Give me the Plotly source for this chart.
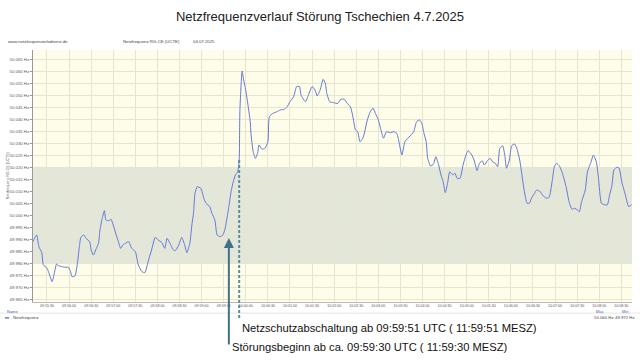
import plotly.graph_objects as go

DATE = "2025-07-04 "

times = [
    "09:55:11", "09:55:13", "09:55:16", "09:55:19", "09:55:23", "09:55:25", "09:55:30", "09:55:32",
    "09:55:37", "09:55:40", "09:55:43", "09:55:46", "09:55:50", "09:55:55", "09:55:59", "09:56:02",
    "09:56:04", "09:56:08", "09:56:11", "09:56:14", "09:56:16", "09:56:20", "09:56:23", "09:56:28",
    "09:56:30", "09:56:33", "09:56:37", "09:56:40", "09:56:42", "09:56:45", "09:56:48", "09:56:50",
    "09:56:54", "09:56:57", "09:57:00", "09:57:04", "09:57:07", "09:57:10", "09:57:13", "09:57:18",
    "09:57:21", "09:57:25", "09:57:30", "09:57:34", "09:57:39", "09:57:43", "09:57:48", "09:57:52",
    "09:57:57", "09:58:01", "09:58:06", "09:58:10", "09:58:13", "09:58:17", "09:58:21", "09:58:24",
    "09:58:29", "09:58:33", "09:58:37", "09:58:40", "09:58:44", "09:58:47", "09:58:49", "09:58:51",
    "09:58:54", "09:58:59", "09:59:03", "09:59:06", "09:59:11", "09:59:14", "09:59:18", "09:59:21",
    "09:59:25", "09:59:29", "09:59:32", "09:59:34", "09:59:37", "09:59:40", "09:59:43", "09:59:46",
    "09:59:49", "09:59:51", "09:59:52", "09:59:55", "09:59:57", "09:59:59", "10:00:02", "10:00:06",
    "10:00:07", "10:00:10", "10:00:13", "10:00:16", "10:00:18", "10:00:22", "10:00:26", "10:00:30",
    "10:00:32", "10:00:37", "10:00:42", "10:00:47", "10:00:52", "10:00:56", "10:01:00", "10:01:05",
    "10:01:09", "10:01:13", "10:01:15", "10:01:21", "10:01:25", "10:01:30", "10:01:34", "10:01:37",
    "10:01:41", "10:01:45", "10:01:48", "10:01:50", "10:01:54", "10:01:59", "10:02:05", "10:02:09",
    "10:02:14", "10:02:17", "10:02:22", "10:02:25", "10:02:29", "10:02:32", "10:02:35", "10:02:39",
    "10:02:42", "10:02:45", "10:02:49", "10:02:53", "10:02:56", "10:03:00", "10:03:03", "10:03:07",
    "10:03:11", "10:03:16", "10:03:21", "10:03:25", "10:03:27", "10:03:32", "10:03:36", "10:03:40",
    "10:03:43", "10:03:48", "10:03:52", "10:03:56", "10:03:59", "10:04:02", "10:04:05", "10:04:07",
    "10:04:11", "10:04:15", "10:04:18", "10:04:22", "10:04:25", "10:04:28", "10:04:31", "10:04:34",
    "10:04:37", "10:04:41", "10:04:44", "10:04:47", "10:04:51", "10:04:55", "10:04:59", "10:05:02",
    "10:05:07", "10:05:10", "10:05:14", "10:05:17", "10:05:21", "10:05:24", "10:05:28", "10:05:32",
    "10:05:35", "10:05:39", "10:05:42", "10:05:45", "10:05:49", "10:05:52", "10:05:54", "10:05:58",
    "10:06:01", "10:06:05", "10:06:08", "10:06:12", "10:06:15", "10:06:18", "10:06:22", "10:06:25",
    "10:06:28", "10:06:32", "10:06:35", "10:06:40", "10:06:43", "10:06:48", "10:06:52", "10:06:56",
    "10:06:59", "10:07:02", "10:07:06", "10:07:10", "10:07:15", "10:07:19", "10:07:23", "10:07:27",
    "10:07:30", "10:07:33", "10:07:36", "10:07:41", "10:07:44", "10:07:49", "10:07:52", "10:07:56",
    "10:07:59", "10:08:03", "10:08:08", "10:08:11", "10:08:14", "10:08:17", "10:08:20", "10:08:24",
    "10:08:27", "10:08:31", "10:08:35", "10:08:40", "10:08:44",
]

freq = [
    49.9889, 49.9903, 49.9917, 49.9868, 49.9842, 49.9792, 49.9779, 49.9764,
    49.9722, 49.9758, 49.9796, 49.9788, 49.9785, 49.9782, 49.9782, 49.9764,
    49.9743, 49.9746, 49.9792, 49.9868, 49.9907, 49.9917, 49.9903, 49.9889,
    49.9854, 49.9833, 49.9861, 49.9882, 49.9938, 49.9986, 50.0018, 49.9979,
    49.9976, 49.9982, 49.9958, 49.9917, 49.9889, 49.9861, 49.9875, 49.9885,
    49.9889, 49.9861, 49.9847, 49.9792, 49.9764, 49.9760, 49.9813, 49.9854,
    49.9907, 49.9896, 49.9885, 49.9861, 49.9903, 49.9882, 49.9857, 49.9851,
    49.9875, 49.9907, 49.9875, 49.9843, 49.9882, 49.9965, 50.0007, 50.0090,
    50.0118, 50.0111, 50.0070, 50.0049, 50.0035, 50.0007, 49.9979, 49.9917,
    49.9910, 49.9917, 49.9945, 49.9979, 50.0035, 50.0097, 50.0139, 50.0167,
    50.0180, 50.0229, 50.0438, 50.0600, 50.0563, 50.0535, 50.0479, 50.0389,
    50.0340, 50.0264, 50.0236, 50.0257, 50.0292, 50.0274, 50.0278, 50.0305,
    50.0410, 50.0424, 50.0430, 50.0438, 50.0440, 50.0451, 50.0472, 50.0493,
    50.0535, 50.0535, 50.0500, 50.0472, 50.0500, 50.0535, 50.0521, 50.0496,
    50.0521, 50.0565, 50.0549, 50.0507, 50.0472, 50.0468, 50.0465, 50.0482,
    50.0482, 50.0468, 50.0451, 50.0417, 50.0354, 50.0347, 50.0305, 50.0320,
    50.0354, 50.0396, 50.0430, 50.0445, 50.0424, 50.0396, 50.0361, 50.0320,
    50.0347, 50.0343, 50.0347, 50.0340, 50.0320, 50.0250, 50.0305, 50.0320,
    50.0329, 50.0347, 50.0389, 50.0396, 50.0382, 50.0340, 50.0305, 50.0236,
    50.0204, 50.0213, 50.0243, 50.0208, 50.0167, 50.0139, 50.0093, 50.0132,
    50.0180, 50.0167, 50.0174, 50.0153, 50.0153, 50.0208, 50.0250, 50.0268,
    50.0250, 50.0229, 50.0185, 50.0213, 50.0226, 50.0208, 50.0226, 50.0236,
    50.0222, 50.0215, 50.0201, 50.0278, 50.0288, 50.0243, 50.0195, 50.0229,
    50.0288, 50.0296, 50.0278, 50.0229, 50.0167, 50.0104, 50.0049, 50.0049,
    50.0070, 50.0090, 50.0104, 50.0097, 50.0083, 50.0070, 50.0074, 50.0139,
    50.0201, 50.0215, 50.0204, 50.0174, 50.0118, 50.0055, 50.0024, 50.0028,
    50.0021, 50.0014, 50.0055, 50.0104, 50.0180, 50.0222, 50.0250, 50.0222,
    50.0153, 50.0049, 50.0042, 50.0042, 50.0083, 50.0118, 50.0188, 50.0199,
    50.0195, 50.0132, 50.0090, 50.0035, 50.0042,
]

x_range = ["09:55:11", "10:08:44.5"]
y_range = [49.96375, 50.06875]
band = [49.98, 50.02]
tick0 = "09:55:30"

title = "Netzfrequenzverlauf Störung Tschechien 4.7.2025"
site = "www.netzfrequenzinfodienst.de"
series_name = "Netzfrequenz RG-CE (UCTE)"
date_label = "04.07.2025"
legend_name = "Netzfrequenz"
max_label = "50.060 Hz"
min_label = "49.972 Hz"
t_shutdown = "09:59:51"
t_start = "09:59:37"
txt_shutdown = "Netzschutzabschaltung ab 09:59:51 UTC ( 11:59:51 MESZ)"
txt_start = "Störungsbeginn ab ca. 09:59:30 UTC ( 11:59:30 MESZ)"

LINE = "#6479d8"
GRID = "#e7e5cf"
TICKC = "#555555"
FONT = "Liberation Sans"

fig = go.Figure()
fig.add_trace(go.Scatter(
    x=[DATE + t for t in times], y=freq, mode="lines",
    line=dict(color=LINE, width=1, shape="spline", smoothing=0.5),
    name=legend_name, showlegend=False, hoverinfo="skip",
))

shapes = [
    dict(type="rect", xref="paper", yref="y", x0=0, x1=1, y0=band[0], y1=band[1],
         fillcolor="#e2e7da", line=dict(width=0), layer="below"),
    dict(type="line", xref="paper", yref="paper", x0=-0.055, x1=1.0134, y0=-0.044, y1=-0.044,
         line=dict(color="#e4e4e4", width=1)),
    dict(type="line", xref="x", yref="paper", x0=DATE + t_shutdown, x1=DATE + t_shutdown,
         y0=0.5635, y1=-0.0635, line=dict(color="#5b8ca0", width=2, dash="3px,2px")),
    dict(type="line", xref="paper", yref="paper", x0=-0.047, x1=-0.040, y0=-0.063, y1=-0.063,
         line=dict(color=LINE, width=1.5)),
]

small = dict(family=FONT, size=4.3, color="#444444")
annotations = [
    dict(text=site, xref="paper", yref="paper", x=-0.0445, y=1.033, xanchor="left", yanchor="middle",
         showarrow=False, font=small),
    dict(text=series_name, xref="paper", yref="paper", x=0.1465, y=1.033, xanchor="left", yanchor="middle",
         showarrow=False, font=small),
    dict(text=date_label, xref="paper", yref="paper", x=0.263, y=1.033, xanchor="left", yanchor="middle",
         showarrow=False, font=small),
    dict(text=series_name, xref="paper", yref="paper", x=-0.0415, y=0.5, xanchor="center", yanchor="middle",
         textangle=-90, showarrow=False, font=dict(family=FONT, size=3.6, color="#555555")),
    dict(text="Name", xref="paper", yref="paper", x=-0.047, y=-0.036, xanchor="left", yanchor="middle",
         showarrow=False, font=dict(family=FONT, size=4, color="#4a5fc8")),
    dict(text=legend_name, xref="paper", yref="paper", x=-0.037, y=-0.063, xanchor="left", yanchor="middle",
         showarrow=False, font=small),
    dict(text="Max", xref="paper", yref="paper", x=0.947, y=-0.036, xanchor="center", yanchor="middle",
         showarrow=False, font=dict(family=FONT, size=4, color="#4a5fc8")),
    dict(text="Min", xref="paper", yref="paper", x=0.988, y=-0.036, xanchor="center", yanchor="middle",
         showarrow=False, font=dict(family=FONT, size=4, color="#4a5fc8")),
    dict(text=max_label, xref="paper", yref="paper", x=0.953, y=-0.063, xanchor="center", yanchor="middle",
         showarrow=False, font=small),
    dict(text=min_label, xref="paper", yref="paper", x=0.988, y=-0.063, xanchor="center", yanchor="middle",
         showarrow=False, font=small),
    dict(text="", xref="x", yref="paper", x=DATE + t_start, y=0.254,
         axref="pixel", ayref="pixel", ax=0, ay=108,
         showarrow=True, arrowhead=2, arrowsize=1, arrowwidth=2, arrowcolor="#3f7488", standoff=0),
    dict(text=txt_shutdown, xref="x", yref="paper", x=DATE + t_shutdown, y=-0.1032,
         xanchor="left", yanchor="middle", xshift=1, showarrow=False,
         font=dict(family=FONT, size=11.2, color="#111111")),
    dict(text=txt_start, xref="x", yref="paper", x=DATE + t_start, y=-0.1786,
         xanchor="left", yanchor="middle", xshift=1, showarrow=False,
         font=dict(family=FONT, size=11.2, color="#111111")),
]

fig.update_layout(
    width=640, height=360,
    margin=dict(l=33, r=8, t=50, b=58),
    paper_bgcolor="white", plot_bgcolor="#fefde9",
    title=dict(text=title, x=0.5, xanchor="center", y=0.953, yanchor="middle",
               font=dict(family=FONT, size=13, color="#222222")),
    shapes=shapes, annotations=annotations, showlegend=False,
    xaxis=dict(type="date", range=[DATE + x_range[0], DATE + x_range[1]],
               tick0=DATE + tick0, dtick=30000, tickformat="%H:%M:%S",
               showgrid=True, gridcolor=GRID, gridwidth=1, zeroline=False,
               showline=True, linecolor="#bbbbbb", linewidth=1,
               ticks="", tickfont=dict(family=FONT, size=3.6, color=TICKC)),
    yaxis=dict(range=y_range, tick0=50.0, dtick=0.005, tickformat=".3f", ticksuffix=" Hz",
               showgrid=True, gridcolor=GRID, gridwidth=1, zeroline=False,
               showline=True, linecolor="#999999", linewidth=1,
               ticks="outside", ticklen=2, tickcolor="#999999",
               tickfont=dict(family=FONT, size=4.3, color=TICKC)),
)

fig.write_html("out.html")
